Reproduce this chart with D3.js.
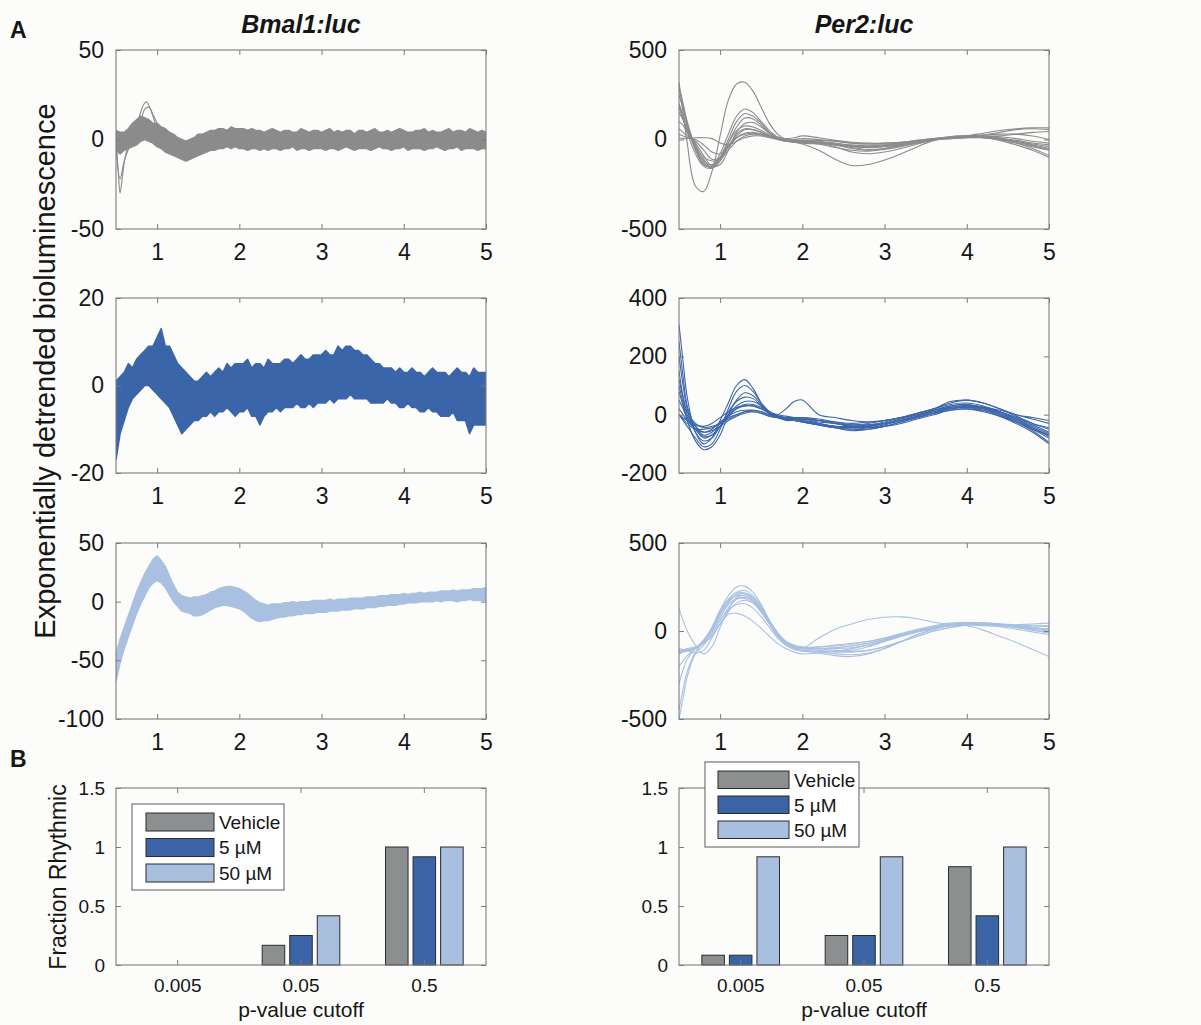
<!DOCTYPE html>
<html>
<head>
<meta charset="utf-8">
<script src="https://cdn.jsdelivr.net/npm/d3@7"></script>
<style>
  body { margin: 0; background: #fcfcfa; }
  svg { display: block; }
</style>
</head>
<body>
<svg id="fig" width="1201" height="1025"></svg>
<script>
// ---------------- data ----------------
const xTicks = [1, 2, 3, 4, 5];
const xDomain = [0.5, 5];

// Bmal1:luc recordings: dense noisy bundles, envelope sampled every 0.05 d (0.5 .. 5.0)
const bandStep = 0.05;
const bmalVehicleUpper = [
  5, 4, 4, 6, 9, 11, 13, 12, 11, 9,
  9, 7, 6, 4, 3, 1, 0, -1, 0, 1,
  3, 3, 4, 5, 5, 6, 6, 5, 7, 6,
  6, 6, 5, 6, 5, 5, 4, 5, 6, 5,
  4, 5, 5, 4, 4, 6, 5, 4, 5, 5,
  4, 5, 6, 4, 5, 4, 5, 5, 3, 5,
  5, 4, 5, 6, 4, 4, 5, 4, 5, 6,
  5, 4, 4, 5, 5, 6, 4, 5, 4, 4,
  5, 6, 4, 5, 5, 4, 6, 5, 4, 5,
  4];
const bmalVehicleLower = [
  -6, -8, -6, -5, -4, -3, -1, 0, -1, -2,
  -4, -5, -7, -8, -9, -10, -11, -12, -11, -10,
  -9, -8, -7, -6, -6, -5, -5, -4, -5, -4,
  -5, -5, -6, -5, -5, -6, -5, -6, -5, -5,
  -6, -5, -5, -4, -6, -5, -5, -6, -5, -5,
  -5, -6, -5, -5, -6, -5, -4, -5, -6, -5,
  -5, -5, -6, -5, -4, -5, -5, -6, -5, -5,
  -4, -6, -5, -5, -5, -6, -5, -5, -4, -5,
  -6, -5, -5, -4, -6, -5, -5, -5, -6, -5,
  -5];
// two vehicle recordings that leave the bundle early on: [day, value]
const bmalVehicleOutliers = [
  [[0.5, 0], [0.53, -20], [0.55, -30], [0.58, -20], [0.62, -8], [0.7, 2], [0.78, 12], [0.83, 19], [0.87, 21],
   [0.9, 19], [0.95, 13], [1.0, 6], [1.1, 0], [1.2, -4], [1.3, -8], [1.4, -9], [1.5, -5], [1.6, -2], [1.8, 2], [2.0, 3]],
  [[0.5, -3], [0.55, -22], [0.6, -12], [0.7, 0], [0.8, 10], [0.85, 17], [0.9, 18], [0.95, 14], [1.05, 5],
   [1.2, -3], [1.35, -9], [1.45, -8], [1.6, -3], [1.8, 1], [2.0, 2]]
];
const bmal5Upper = [
  1, 2, 3, 5, 4, 6, 7, 8, 9, 9,
  11, 13, 9, 9, 7, 5, 4, 3, 2, 1,
  1, 2, 3, 2, 3, 4, 3, 5, 4, 5,
  5, 5, 6, 4, 5, 5, 4, 6, 5, 5,
  5, 6, 6, 5, 6, 7, 6, 6, 7, 7,
  7, 8, 7, 7, 9, 8, 9, 9, 8, 8,
  7, 7, 6, 5, 5, 4, 4, 4, 3, 4,
  3, 3, 4, 3, 3, 2, 3, 4, 3, 3,
  3, 2, 3, 4, 3, 3, 2, 4, 3, 3,
  3];
const bmal5Lower = [
  -17, -11, -8, -5, -3, -2, -1, 0, 0, -1,
  -2, -3, -4, -5, -7, -9, -11, -10, -9, -8,
  -8, -7, -7, -6, -7, -6, -6, -5, -6, -7,
  -6, -6, -5, -7, -7, -9, -7, -6, -6, -5,
  -6, -5, -5, -5, -4, -5, -5, -4, -5, -4,
  -4, -4, -3, -4, -3, -3, -3, -2, -3, -3,
  -3, -3, -4, -4, -4, -4, -3, -4, -4, -5,
  -5, -4, -5, -5, -6, -6, -5, -6, -6, -7,
  -7, -7, -6, -8, -8, -8, -11, -9, -9, -9,
  -9];
const bmal50Upper = [
  -45, -32, -22, -12, -2, 8, 16, 24, 30, 36,
  39, 35, 30, 22, 14, 8, 5, 4, 3, 4,
  4, 5, 6, 8, 9, 11, 12, 13, 13, 12,
  11, 9, 7, 4, 1, -1, -2, -3, -2, -2,
  -2, -1, -1, 0, -1, 0, 0, 0, 1, 1,
  1, 1, 2, 1, 2, 2, 2, 3, 3, 3,
  3, 4, 4, 4, 5, 5, 5, 6, 6, 6,
  7, 6, 7, 7, 8, 7, 8, 8, 8, 9,
  9, 9, 10, 9, 10, 10, 10, 11, 11, 11,
  12];
const bmal50Lower = [
  -68, -52, -40, -30, -20, -10, -2, 5, 12, 16,
  18, 16, 12, 6, 0, -4, -8, -9, -10, -12,
  -12, -11, -9, -7, -5, -4, -3, -3, -4, -5,
  -6, -8, -11, -14, -16, -17, -16, -16, -15, -14,
  -13, -13, -12, -12, -11, -11, -10, -10, -10, -9,
  -9, -9, -8, -8, -8, -7, -7, -7, -6, -6,
  -6, -5, -5, -5, -4, -4, -3, -3, -3, -2,
  -2, -1, -1, -1, 0, 0, 0, 0, 1, 0,
  1, 1, 1, 0, 1, 1, 2, 1, 1, 1,
  1];

// Per2:luc recordings, one row per culture, sampled at per2Times (days)
const per2Times = [0.5, 0.55, 0.6, 0.7, 0.8, 0.9, 1.0, 1.1, 1.2, 1.3, 1.4, 1.5, 1.6, 1.7, 1.8, 1.9, 2.0,
  2.2, 2.4, 2.6, 2.8, 3.0, 3.2, 3.4, 3.6, 3.8, 4.0, 4.2, 4.4, 4.6, 4.8, 5.0];
const per2Vehicle = [
  [320, 150, -20, -260, -290, -180, 20, 220, 310, 320, 270, 180, 90, 30, 0, -15, -25, -60, -110, -145, -140, -115, -80, -40, -5, 15, 20, 25, 30, 30, 20, 0],
  [250, 170, 80, -60, -140, -150, -80, 30, 130, 170, 150, 100, 50, 15, 0, -10, -15, -20, -30, -50, -60, -50, -30, -10, 5, 15, 20, 15, 0, -20, -40, -60],
  [200, 140, 70, -50, -130, -155, -100, 0, 100, 145, 130, 90, 40, 10, -5, -10, -10, -20, -40, -70, -80, -70, -50, -25, 0, 15, 20, 20, 10, -10, -30, -50],
  [150, 110, 60, -30, -110, -160, -120, -20, 70, 120, 115, 80, 35, 5, -10, -15, -15, -25, -45, -60, -65, -55, -40, -20, 0, 10, 15, 25, 40, 55, 60, 55],
  [100, 80, 40, -20, -90, -150, -140, -60, 40, 90, 95, 70, 35, 10, -5, -10, -10, -15, -30, -45, -55, -50, -35, -20, -5, 10, 15, 10, 0, -20, -50, -90],
  [300, 200, 100, -40, -120, -140, -100, -20, 50, 75, 70, 50, 25, 5, -5, -10, -10, -15, -25, -35, -40, -35, -25, -10, 0, 10, 15, 10, -5, -30, -60, -100],
  [60, 40, 20, -10, -60, -110, -100, -40, 20, 55, 55, 40, 20, 5, -5, -5, -5, -10, -20, -30, -35, -30, -20, -10, 0, 5, 10, 15, 20, 30, 40, 45],
  [30, 20, 10, 0, -30, -70, -80, -40, 10, 35, 40, 30, 15, 0, -10, -10, -5, -5, -10, -20, -25, -25, -20, -10, 0, 5, 10, 10, 5, -5, -20, -30],
  [10, 5, 5, 10, 10, 5, -20, -30, -10, 10, 20, 20, 10, 0, -10, -15, -20, -25, -30, -40, -45, -40, -30, -15, 0, 10, 15, 15, 5, -10, -25, -40],
  [200, 120, 40, -80, -150, -160, -120, -40, 30, 60, 55, 40, 20, 5, -5, 0, 5, 0, -10, -20, -25, -20, -15, -5, 5, 10, 20, 35, 50, 60, 65, 65],
  [280, 190, 90, -50, -140, -150, -110, -40, 10, 30, 35, 30, 20, 10, 5, 10, 20, 10, -5, -15, -20, -20, -15, -5, 5, 10, 15, 10, 0, -15, -35, -55],
  [180, 110, 50, -40, -100, -120, -110, -60, -10, 20, 30, 25, 15, 5, 0, -5, -10, -15, -25, -35, -40, -35, -25, -10, 0, 10, 15, 20, 15, 5, -10, -20]
];
const per2Low = [
  [310, 180, 60, -60, -100, -80, -20, 40, 100, 120, 90, 40, 5, -10, -15, -15, -20, -30, -40, -45, -40, -30, -15, 0, 15, 30, 35, 25, 5, -20, -50, -80],
  [0, -20, -40, -80, -110, -100, -50, 20, 80, 100, 80, 40, 10, -10, -15, -15, -20, -30, -40, -40, -35, -25, -10, 5, 20, 35, 40, 30, 10, -15, -45, -75],
  [100, 40, -20, -90, -120, -110, -70, 0, 50, 75, 65, 35, 5, -10, -20, -20, -25, -35, -45, -50, -45, -35, -20, -5, 10, 25, 30, 20, 0, -25, -55, -95],
  [200, 100, 20, -60, -90, -80, -40, 10, 45, 60, 55, 30, 5, -10, -15, -20, -25, -35, -45, -50, -50, -40, -25, -10, 5, 20, 25, 15, -5, -30, -60, -100],
  [50, 20, -10, -50, -80, -70, -40, 0, 30, 45, 45, 30, 10, -5, -10, -15, -20, -30, -40, -45, -40, -30, -20, -5, 15, 30, 35, 25, 10, -10, -35, -60],
  [0, -10, -20, -35, -40, -30, -10, 10, 25, 30, 30, 20, 5, 0, 20, 45, 50, 0, -10, -20, -25, -20, -10, 5, 20, 40, 50, 40, 20, 0, -15, -30],
  [150, 60, 0, -40, -60, -50, -25, -5, 10, 15, 15, 10, 0, -10, -15, -20, -25, -35, -45, -55, -50, -40, -25, -10, 5, 20, 25, 20, 5, -15, -40, -65],
  [20, 0, -20, -50, -60, -55, -40, -20, -5, 5, 10, 5, -5, -10, -15, -15, -15, -25, -30, -35, -30, -20, -10, 5, 20, 45, 50, 40, 20, -5, -30, -50],
  [250, 130, 30, -40, -70, -60, -30, 0, 20, 30, 30, 20, 5, -5, -10, -15, -15, -20, -25, -30, -25, -20, -10, 0, 10, 20, 30, 25, 15, 0, -10, -20],
  [80, 30, -10, -50, -75, -70, -40, -5, 20, 35, 35, 25, 10, 0, -5, -10, -15, -20, -30, -40, -40, -30, -15, 0, 15, 25, 30, 25, 10, -10, -30, -45],
  [0, -15, -30, -50, -50, -45, -30, -10, 0, 10, 15, 10, 0, -5, -10, -10, -10, -20, -30, -40, -45, -40, -30, -15, 0, 15, 20, 10, -5, -25, -50, -70],
  [120, 60, 10, -30, -45, -40, -30, -15, 0, 10, 10, 5, -5, -10, -10, -10, -10, -15, -25, -35, -35, -30, -20, -10, 5, 15, 20, 15, 0, -20, -45, -70]
];
const per2High = [
  [130, 60, 0, -80, -130, -90, 20, 120, 190, 200, 170, 110, 40, -20, -60, -80, -90, -100, -110, -115, -110, -90, -60, -30, 0, 20, 35, 40, 35, 25, 15, 5],
  [-120, -115, -110, -100, -60, 0, 100, 180, 220, 230, 200, 140, 60, -10, -60, -90, -100, -110, -115, -110, -90, -60, -30, 0, 20, 35, 40, 45, 40, 30, 20, 10],
  [-130, -120, -110, -95, -50, 20, 120, 200, 250, 255, 220, 150, 60, -20, -70, -100, -110, -125, -140, -145, -130, -100, -60, -20, 10, 30, 40, 35, 25, 10, -5, -20],
  [-450, -330, -230, -120, -60, 20, 110, 180, 215, 215, 185, 130, 50, -20, -70, -95, -100, -100, -95, -85, -70, -50, -25, 0, 20, 35, 45, 45, 40, 30, 20, 10],
  [-500, -380, -260, -130, -80, -20, 60, 130, 180, 190, 170, 120, 50, -20, -70, -100, -110, -115, -120, -120, -110, -90, -60, -30, 0, 20, 35, 40, 35, 25, 10, 0],
  [-120, -110, -100, -90, -70, -20, 60, 120, 150, 155, 130, 80, 20, -40, -80, -95, -100, -100, -95, -85, -70, -45, -20, 5, 25, 40, 45, 40, 30, 20, 5, -10],
  [-100, -105, -110, -125, -110, -40, 40, 95, 100, 85, 55, 15, -30, -70, -100, -120, -130, -125, -115, -100, -80, -55, -30, -5, 15, 30, 30, 5, -30, -65, -105, -145],
  [-300, -220, -160, -100, -60, 10, 100, 170, 205, 210, 180, 120, 40, -30, -75, -95, -100, -40, 10, 40, 65, 78, 80, 70, 50, 40, 35, 30, 30, 35, 40, 45],
  [-120, -115, -110, -95, -55, 10, 100, 170, 200, 200, 170, 110, 40, -30, -80, -105, -115, -120, -130, -135, -125, -100, -60, -20, 10, 35, 45, 45, 40, 35, 30, 25],
  [-200, -170, -140, -100, -60, 0, 80, 150, 185, 185, 160, 105, 40, -25, -70, -90, -95, -90, -80, -70, -60, -40, -20, 0, 20, 30, 40, 40, 35, 30, 20, 10],
  [-120, -118, -115, -100, -65, -5, 80, 160, 205, 215, 190, 130, 55, -15, -65, -90, -95, -90, -85, -75, -60, -40, -15, 10, 30, 45, 50, 45, 35, 20, 5, -10],
  [-110, -110, -105, -95, -70, -30, 40, 110, 160, 175, 160, 115, 55, -10, -60, -85, -95, -100, -100, -95, -80, -55, -30, -5, 15, 30, 40, 40, 35, 30, 30, 30]
];

// Fraction of cultures scored rhythmic at each p-value cutoff
const cutoffLabels = ["0.005", "0.05", "0.5"];
const treatments = ["Vehicle", "5 µM", "50 µM"];
const bmalFracVehicle = [0, 0.167, 1];
const bmalFrac5 = [0, 0.25, 0.917];
const bmalFrac50 = [0, 0.417, 1];
const per2FracVehicle = [0.083, 0.25, 0.833];
const per2Frac5 = [0.083, 0.25, 0.417];
const per2Frac50 = [0.917, 0.917, 1];
const fracTicks = [0, 0.5, 1, 1.5];

// ---------------- style ----------------
const FONT = "'Liberation Sans', Arial, Helvetica, sans-serif";
const ink = "#161616";
const frameCol = "#7c7c7c";
const traceCol = { vehicle: "#8b8b8b", low: "#3b65a9", high: "#a9c0e1" };
const barCol = { "Vehicle": "#8c8f8f", "5 µM": "#3b64a6", "50 µM": "#a8bfe0" };

const svg = d3.select("#fig").attr("font-family", FONT);
let clipId = 0;

function frameAxes(x, y, xr, yr, opt) {
  const g = svg.append("g");
  const style = sel => {
    sel.attr("font-family", FONT).attr("font-size", opt.fs);
    sel.select(".domain").remove();
    sel.selectAll(".tick line").attr("stroke", frameCol).attr("stroke-width", 1);
    sel.selectAll(".tick text").attr("fill", ink);
  };
  const bx = opt.xAxis(d3.axisBottom(x)).tickSize(-5).tickPadding(opt.xPad);
  const tx = opt.xAxis(d3.axisTop(x)).tickSize(-5).tickFormat("");
  const ly = d3.axisLeft(y).tickValues(opt.yTicks).tickSize(-5).tickPadding(opt.yPad).tickFormat(d => String(d));
  const ry = d3.axisRight(y).tickValues(opt.yTicks).tickSize(-5).tickFormat("");
  g.append("g").attr("transform", `translate(0,${yr[1]})`).call(bx).call(style);
  g.append("g").attr("transform", `translate(0,${yr[0]})`).call(tx).call(style);
  g.append("g").attr("transform", `translate(${xr[0]},0)`).call(ly).call(style);
  g.append("g").attr("transform", `translate(${xr[1]},0)`).call(ry).call(style);
  g.append("rect")
    .attr("x", xr[0]).attr("y", yr[0])
    .attr("width", xr[1] - xr[0]).attr("height", yr[1] - yr[0])
    .attr("fill", "none").attr("stroke", frameCol).attr("stroke-width", 1.1);
}

function timePanel(xr, yr, yDomain, yTicks, drawTraces) {
  const x = d3.scaleLinear().domain(xDomain).range(xr);
  const y = d3.scaleLinear().domain(yDomain).range([yr[1], yr[0]]);
  const id = "clip" + (clipId++);
  svg.append("clipPath").attr("id", id).append("rect")
    .attr("x", xr[0]).attr("y", yr[0]).attr("width", xr[1] - xr[0]).attr("height", yr[1] - yr[0]);
  const plot = svg.append("g").attr("clip-path", `url(#${id})`);
  drawTraces(plot, x, y);
  frameAxes(x, y, xr, yr, {
    xAxis: a => a.tickValues(xTicks).tickFormat(d => String(d)),
    yTicks, fs: 23, xPad: 15, yPad: 12
  });
}

// bundle of noisy recordings: shaded envelope with rough edges
function bundle(plot, x, y, upper, lower, color) {
  const pts = upper.map((u, i) => ({ t: 0.5 + i * bandStep, u, l: lower[i] }));
  plot.append("path").datum(pts)
    .attr("d", d3.area().x(d => x(d.t)).y0(d => y(d.l)).y1(d => y(d.u)))
    .attr("fill", color);
  [d => d.u, d => d.l].forEach(acc => {
    plot.append("path").datum(pts)
      .attr("d", d3.line().x(d => x(d.t)).y(d => y(acc(d))))
      .attr("fill", "none").attr("stroke", color).attr("stroke-width", 1.5)
      .attr("stroke-linejoin", "round");
  });
}

function traces(plot, x, y, rows, color) {
  const line = d3.line().curve(d3.curveCatmullRom).x((v, i) => x(per2Times[i])).y(v => y(v));
  plot.selectAll(null).data(rows).join("path")
    .attr("d", line).attr("fill", "none")
    .attr("stroke", color).attr("stroke-width", 1.1).attr("stroke-linejoin", "round");
}

const leftX = [116, 486], rightX = [679, 1049];
const rowY = [[50, 229], [298, 473], [543, 719]];

// ---- A: Bmal1:luc ----
timePanel(leftX, rowY[0], [-50, 50], [-50, 0, 50], (p, x, y) => {
  bundle(p, x, y, bmalVehicleUpper, bmalVehicleLower, traceCol.vehicle);
  const line = d3.line().curve(d3.curveCatmullRom).x(d => x(d[0])).y(d => y(d[1]));
  p.selectAll(null).data(bmalVehicleOutliers).join("path")
    .attr("d", line).attr("fill", "none").attr("stroke", traceCol.vehicle).attr("stroke-width", 1.1);
});
timePanel(leftX, rowY[1], [-20, 20], [-20, 0, 20], (p, x, y) => {
  bundle(p, x, y, bmal5Upper, bmal5Lower, traceCol.low);
});
timePanel(leftX, rowY[2], [-100, 50], [-100, -50, 0, 50], (p, x, y) => {
  bundle(p, x, y, bmal50Upper, bmal50Lower, traceCol.high);
});

// ---- A: Per2:luc ----
timePanel(rightX, rowY[0], [-500, 500], [-500, 0, 500], (p, x, y) => traces(p, x, y, per2Vehicle, traceCol.vehicle));
timePanel(rightX, rowY[1], [-200, 400], [-200, 0, 200, 400], (p, x, y) => traces(p, x, y, per2Low, traceCol.low));
timePanel(rightX, rowY[2], [-500, 500], [-500, 0, 500], (p, x, y) => traces(p, x, y, per2High, traceCol.high));

// ---- B: fraction rhythmic ----
function barPanel(xr, yr, series, legendSpec) {
  const xb = d3.scaleBand().domain(cutoffLabels).range(xr);
  const half = 0.335 * xb.bandwidth();
  const inner = d3.scaleBand().domain(treatments).range([-half, half]).paddingInner(0.182).paddingOuter(0.091);
  const y = d3.scaleLinear().domain([0, 1.5]).range([yr[1], yr[0]]);
  const g = svg.append("g");
  series.forEach(s => {
    g.selectAll(null).data(s.values).join("rect")
      .attr("x", (v, i) => xb(cutoffLabels[i]) + xb.bandwidth() / 2 + inner(s.name))
      .attr("width", inner.bandwidth())
      .attr("y", v => y(v))
      .attr("height", v => y(0) - y(v))
      .attr("fill", barCol[s.name]).attr("stroke", "#2b2b2b").attr("stroke-width", 1);
  });
  frameAxes(xb, y, xr, yr, { xAxis: a => a, yTicks: fracTicks, fs: 19, xPad: 14, yPad: 11 });

  // legend
  const L = legendSpec;
  const lg = svg.append("g");
  lg.append("rect").attr("x", L.x).attr("y", L.y).attr("width", L.w).attr("height", L.h)
    .attr("fill", "#ffffff").attr("stroke", "#6a6a6a").attr("stroke-width", 1.1);
  treatments.forEach((name, i) => {
    const top = L.rowTop + i * L.rowStep;
    lg.append("rect").attr("x", L.swX).attr("y", top).attr("width", L.swW).attr("height", L.swH)
      .attr("fill", barCol[name]).attr("stroke", "#2b2b2b").attr("stroke-width", 1);
    lg.append("text").attr("x", L.textX).attr("y", top + L.swH / 2).attr("dy", "0.36em")
      .attr("font-size", 19).attr("fill", ink).text(name);
  });
}

const barY = [788, 965];
barPanel(leftX, barY, [
  { name: "Vehicle", values: bmalFracVehicle },
  { name: "5 µM", values: bmalFrac5 },
  { name: "50 µM", values: bmalFrac50 }
], { x: 132, y: 804, w: 152, h: 86, swX: 146, swW: 68, swH: 18, rowTop: 813, rowStep: 25.5, textX: 219 });
barPanel(rightX, barY, [
  { name: "Vehicle", values: per2FracVehicle },
  { name: "5 µM", values: per2Frac5 },
  { name: "50 µM", values: per2Frac50 }
], { x: 705, y: 762, w: 154, h: 85, swX: 718, swW: 71, swH: 17.5, rowTop: 771, rowStep: 25, textX: 794 });

// ---------------- text ----------------
const txt = (x, y, s, size, extra = {}) => {
  const t = svg.append("text").attr("x", x).attr("y", y).attr("font-size", size).attr("fill", ink).text(s);
  Object.entries(extra).forEach(([k, v]) => t.attr(k, v));
  return t;
};
txt(10, 38, "A", 23, { "font-weight": "bold" });
txt(10, 767, "B", 23, { "font-weight": "bold" });
txt(301, 33, "Bmal1:luc", 25, { "font-weight": "bold", "font-style": "italic", "text-anchor": "middle" });
txt(864, 33, "Per2:luc", 25, { "font-weight": "bold", "font-style": "italic", "text-anchor": "middle" });
txt(0, 0, "Exponentially detrended bioluminescence", 29,
  { "text-anchor": "middle", transform: "translate(55,371) rotate(-90)" });
txt(0, 0, "Fraction Rhythmic", 23, { "text-anchor": "middle", transform: "translate(66,877) rotate(-90)" });
txt(301, 1017, "p-value cutoff", 21, { "text-anchor": "middle" });
txt(864, 1017, "p-value cutoff", 21, { "text-anchor": "middle" });
</script>
</body>
</html>
